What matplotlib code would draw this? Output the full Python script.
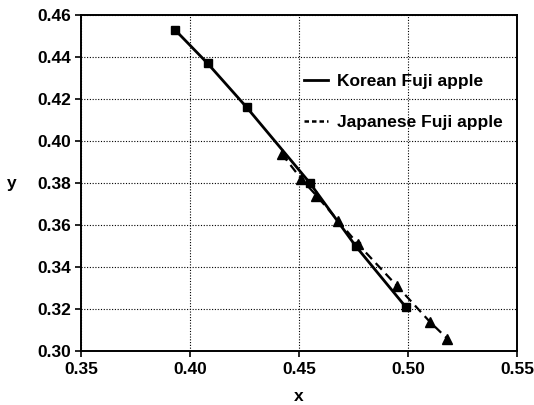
import matplotlib
matplotlib.use("Agg")
import matplotlib.pyplot as plt
from matplotlib.lines import Line2D

plt.rcParams['font.family'] = ['Liberation Sans', 'DejaVu Sans']

korean_x = [0.393, 0.408, 0.426, 0.455, 0.476, 0.499]
korean_y = [0.453, 0.437, 0.416, 0.380, 0.350, 0.321]
japanese_x = [0.442, 0.451, 0.458, 0.468, 0.477, 0.495, 0.510, 0.518]
japanese_y = [0.394, 0.382, 0.374, 0.362, 0.351, 0.331, 0.314, 0.306]
x_ticks = [0.35, 0.40, 0.45, 0.50, 0.55]
y_ticks = [0.30, 0.32, 0.34, 0.36, 0.38, 0.40, 0.42, 0.44, 0.46]

fig = plt.figure(figsize=(5.34, 4.05), dpi=100)
ax = fig.add_axes([0.152, 0.133, 0.816, 0.830])

ax.plot(korean_x, korean_y, color='black', lw=2.0, marker='s', ms=5.5)
ax.plot(japanese_x, japanese_y, color='black', lw=1.6, ls=(0, (4, 2.5)), marker='^', ms=7)

ax.set_xlim(0.35, 0.55)
ax.set_ylim(0.30, 0.46)
ax.set_xticks(x_ticks)
ax.set_yticks(y_ticks)
ax.set_xticklabels([f"{v:.2f}" for v in x_ticks], fontweight='bold')
ax.set_yticklabels([f"{v:.2f}" for v in y_ticks], fontweight='bold')
ax.tick_params(direction='out', length=4, width=1.2, labelsize=12.5, colors='black')
ax.grid(True, color='black', ls=(0, (1, 1.5)), lw=0.8)
for s in ax.spines.values():
    s.set_linewidth(1.4)
    s.set_color('black')

ax.set_xlabel('x', fontsize=12.5, fontweight='bold', labelpad=9)
ax.set_ylabel('y', fontsize=12.5, fontweight='bold', rotation=0, labelpad=18, va='center')

handles = [Line2D([], [], color='black', lw=2.0),
           Line2D([], [], color='black', lw=1.8, ls=(0, (1.8, 1.2)))]
leg = ax.legend(handles, ['Korean Fuji apple', 'Japanese Fuji apple'],
                loc='upper left', bbox_to_anchor=(0.495, 0.845), frameon=False,
                prop={'size': 12.5, 'weight': 'bold'}, handlelength=1.4,
                handletextpad=0.5, labelspacing=1.5, borderaxespad=0)

fig.savefig('out.png', dpi=100)
